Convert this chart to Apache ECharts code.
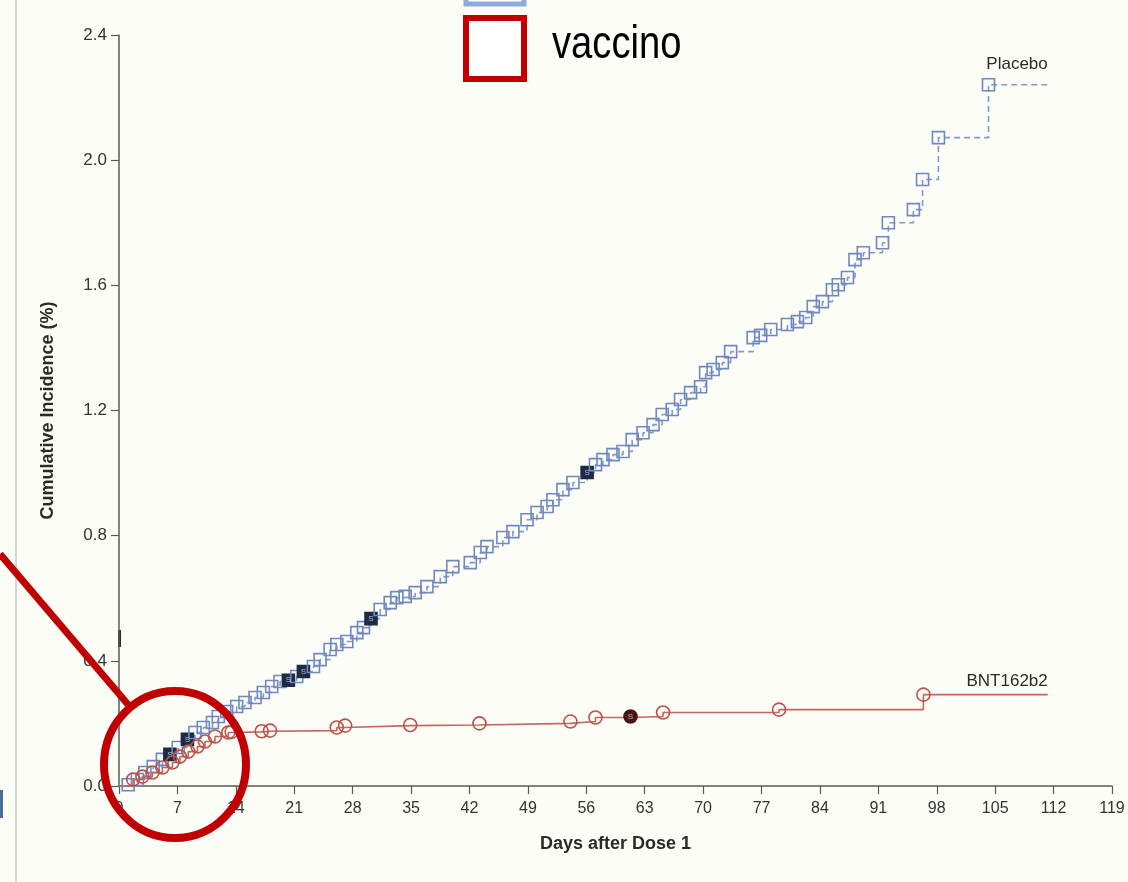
<!DOCTYPE html>
<html>
<head>
<meta charset="utf-8">
<title>Cumulative Incidence</title>
<script src="https://cdn.jsdelivr.net/npm/echarts@6/dist/echarts.min.js"></script>
<style>
  html, body { margin: 0; padding: 0; background: #fdfdf8; }
  #chart { width: 1128px; height: 882px; }
</style>
</head>
<body>
<div id="chart"></div>
<script>
// Kaplan-Meier style cumulative incidence after dose 1 (event days and % values)
const placeboDays = [1.1, 2.2, 3.1, 4.1, 5.2, 6.1, 7.1, 8.2, 9.1, 10.1, 11.2, 11.9,
  12.9, 14.1, 15.1, 16.3, 17.3, 18.3, 19.3, 20.3,
  21.3, 22.1, 23.3, 24.1, 25.3, 26.1, 27.3, 28.5, 29.3, 30.2,
  31.3, 32.5, 33.3, 34.3, 35.5, 36.9, 38.5, 40.0, 42.1, 43.3,
  44.1, 46.0, 47.2, 48.9, 50.1, 51.3, 52.0, 53.2, 54.4, 56.1,
  57.1, 58.0, 59.2, 60.4, 61.5, 62.8, 64.0, 65.1, 66.3, 67.3,
  68.5, 69.7, 70.3, 71.2, 72.3, 73.3, 76.0, 76.9, 78.1, 80.1,
  81.3, 82.3, 83.2, 84.3, 85.5, 86.2, 87.3, 88.2, 89.2, 91.5,
  92.2, 95.2, 96.3, 98.2, 104.2];
const placeboPct = [0.004, 0.021, 0.043, 0.062, 0.085, 0.101, 0.123, 0.149, 0.171, 0.187, 0.203, 0.222,
  0.238, 0.254, 0.267, 0.283, 0.299, 0.318, 0.334, 0.338,
  0.350, 0.366, 0.382, 0.404, 0.436, 0.452, 0.462, 0.490, 0.506, 0.535,
  0.564, 0.586, 0.602, 0.606, 0.618, 0.637, 0.669, 0.701, 0.714, 0.746,
  0.765, 0.794, 0.813, 0.851, 0.874, 0.893, 0.915, 0.947, 0.970, 1.002,
  1.027, 1.043, 1.059, 1.069, 1.107, 1.129, 1.155, 1.187, 1.203, 1.235,
  1.257, 1.276, 1.321, 1.331, 1.353, 1.388, 1.433, 1.440, 1.459, 1.475,
  1.484, 1.497, 1.532, 1.548, 1.586, 1.602, 1.625, 1.682, 1.704, 1.736,
  1.800, 1.842, 1.938, 2.072, 2.241];
// events flagged with a filled "S" marker
const placeboSevereDays = [6.1, 8.2, 20.3, 22.1, 30.2, 56.1];
const placeboEndDay = 111.3;

const vaccineDays = [1.7, 2.8, 4.0, 5.2, 6.4, 7.3, 8.3, 9.4, 10.3, 11.5, 13.1, 13.5,
  17.1, 18.1, 26.1, 27.1, 34.9, 43.2, 54.1, 57.1, 61.3, 65.2, 79.1, 96.4];
const vaccinePct = [0.021, 0.030, 0.043, 0.059, 0.075, 0.094, 0.110, 0.126, 0.142, 0.158, 0.171, 0.173,
  0.175, 0.177, 0.187, 0.193, 0.195, 0.200, 0.206, 0.219, 0.222, 0.235, 0.244, 0.292];
const vaccineSevereDays = [61.3];
const vaccineEndDay = 111.3;

const seriesNames = ['Placebo', 'BNT162b2'];
const legendLabel = 'vaccino';
const xAxisTitle = 'Days after Dose 1';
const yAxisTitle = 'Cumulative Incidence (%)';

const BLUE = '#6f89bf';
const BLUE_LINE = '#8299c8';
const RED = '#b9534b';
const RED_LINE = '#c2665f';
const FONT = '"Liberation Sans", Arial, sans-serif';

function buildSeriesData(days, pct, severe, endDay, fillColor) {
  const out = [{ value: [0, 0], symbol: 'none' }];
  days.forEach((d, i) => {
    const item = { value: [d, pct[i]] };
    if (severe.indexOf(d) >= 0) {
      item.itemStyle = { color: fillColor, borderColor: fillColor };
      item.label = { show: true, position: 'inside', formatter: 'S', fontSize: 8, color: '#b8bfcc', fontFamily: FONT };
    }
    out.push(item);
  });
  out.push({ value: [endDay, pct[pct.length - 1]], symbol: 'none' });
  return out;
}

// series name written just above the end of its curve
function endName(endDay, pct, label, dist) {
  return {
    symbol: 'circle',
    symbolSize: 0,
    silent: true,
    itemStyle: { color: 'rgba(0,0,0,0)' },
    data: [{
      coord: [endDay, pct[pct.length - 1]],
      label: {
        show: true, position: 'top', align: 'right', distance: dist,
        formatter: label, fontSize: 17, color: '#2a2a2a', fontFamily: FONT
      }
    }]
  };
}

const chart = echarts.init(document.getElementById('chart'), null, { renderer: 'canvas' });

const axisColor = '#5a5a5a';

chart.setOption({
  animation: false,
  backgroundColor: '#fdfdf8',
  grid: { left: 119, right: 16, top: 35, bottom: 96 },
  xAxis: {
    type: 'value',
    min: 0, max: 119, interval: 7,
    name: xAxisTitle,
    nameLocation: 'middle',
    nameGap: 49,
    nameTextStyle: { fontFamily: FONT, fontWeight: 'bold', fontSize: 18, color: '#2a2a2a' },
    axisLine: { show: true, onZero: false, lineStyle: { color: axisColor, width: 1.5 } },
    axisTick: { show: true, inside: false, length: 8, lineStyle: { color: axisColor, width: 1.2 } },
    axisLabel: { margin: 15, fontFamily: FONT, fontSize: 16, color: '#333' },
    splitLine: { show: false }
  },
  yAxis: {
    type: 'value',
    min: 0, max: 2.4, interval: 0.4,
    name: yAxisTitle,
    nameLocation: 'middle',
    nameRotate: 90,
    nameGap: 62,
    nameTextStyle: { fontFamily: FONT, fontWeight: 'bold', fontSize: 18, color: '#2a2a2a' },
    axisLine: { show: true, lineStyle: { color: axisColor, width: 1.5 } },
    axisTick: { show: true, inside: false, length: 8, lineStyle: { color: axisColor, width: 1.2 } },
    axisLabel: { margin: 12, fontFamily: FONT, fontSize: 17, color: '#333', formatter: v => v.toFixed(1) },
    splitLine: { show: false }
  },
  series: [
    {
      name: seriesNames[0],
      type: 'line',
      step: 'end',
      symbol: 'rect',
      symbolSize: 12,
      showAllSymbol: true,
      itemStyle: { color: 'rgba(255,255,255,0)', borderColor: BLUE, borderWidth: 1.6 },
      lineStyle: { color: BLUE_LINE, width: 1.6, type: [6, 4] },
      data: buildSeriesData(placeboDays, placeboPct, placeboSevereDays, placeboEndDay, '#1d2b47'),
      markPoint: endName(placeboEndDay, placeboPct, seriesNames[0], 12),
      z: 3
    },
    {
      name: seriesNames[1],
      type: 'line',
      step: 'end',
      symbol: 'circle',
      symbolSize: 13,
      showAllSymbol: true,
      itemStyle: { color: 'rgba(255,255,255,0)', borderColor: RED, borderWidth: 1.6 },
      lineStyle: { color: RED_LINE, width: 1.6 },
      data: buildSeriesData(vaccineDays, vaccinePct, vaccineSevereDays, vaccineEndDay, '#4a1414'),
      markPoint: endName(vaccineEndDay, vaccinePct, seriesNames[1], 5),
      z: 4
    }
  ],
  graphic: [
    // page edge on the left
    { type: 'line', shape: { x1: 16, y1: 0, x2: 16, y2: 882 }, style: { stroke: '#c9c9c6', lineWidth: 1.5 }, silent: true },
    { type: 'rect', shape: { x: 0, y: 790, width: 3, height: 28 }, style: { fill: '#4d6b9c' }, silent: true },
    // small dark mark on the vertical axis
    { type: 'rect', shape: { x: 118, y: 630, width: 3, height: 17 }, style: { fill: '#2a2a2a' }, silent: true },
    // legend swatches
    { type: 'rect', shape: { x: 466, y: -60, width: 58, height: 64 }, style: { fill: '#ffffff', stroke: '#8eaadb', lineWidth: 5 }, silent: true },
    { type: 'rect', shape: { x: 466, y: 18, width: 58, height: 61 }, style: { fill: '#ffffff', stroke: '#c00000', lineWidth: 6 }, silent: true },
    { type: 'text', x: 552, y: 45, scaleX: 0.83, style: { text: legendLabel, font: '46px "Liberation Sans", Arial, sans-serif', fill: '#000000', textVerticalAlign: 'middle' }, silent: true },
    // highlight around the first two weeks
    { type: 'line', shape: { x1: 0, y1: 554, x2: 131, y2: 708 }, style: { stroke: '#c00000', lineWidth: 7 }, silent: true, z: 100 },
    { type: 'ellipse', shape: { cx: 175, cy: 764.5, rx: 71, ry: 73.5 }, style: { fill: 'none', stroke: '#c00000', lineWidth: 8 }, silent: true, z: 100 }
  ]
});
</script>
</body>
</html>
